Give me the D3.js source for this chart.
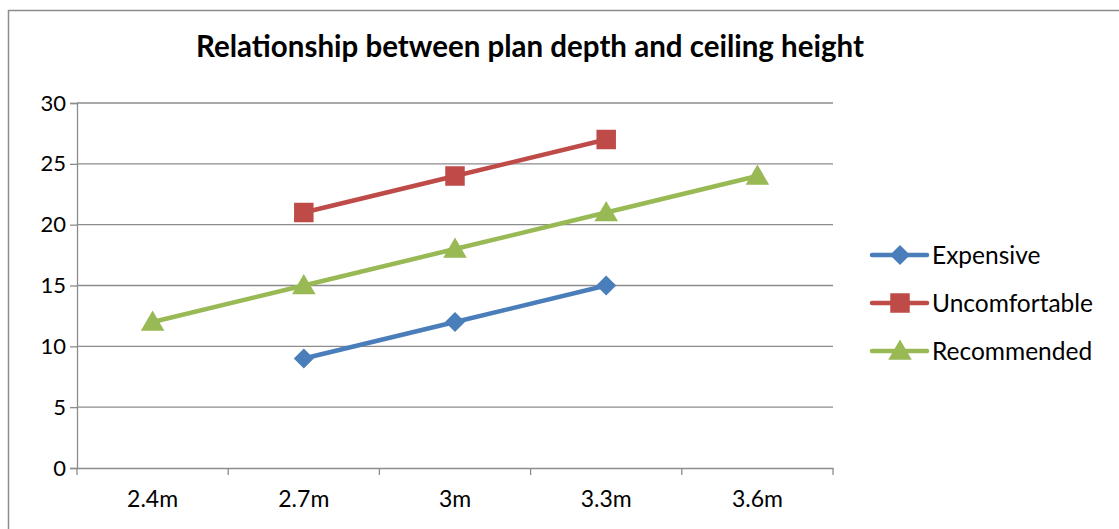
<!DOCTYPE html>
<html>
<head>
<meta charset="utf-8">
<script src="https://cdn.jsdelivr.net/npm/d3@7"></script>
<style>
  html, body { margin: 0; padding: 0; background: #fff; }
  svg { display: block; }
</style>
</head>
<body>
<svg id="chart" width="1119" height="529"></svg>
<script>
// Ceiling height categories
const categories = ["2.4m", "2.7m", "3m", "3.3m", "3.6m"];
// Plan depth values per series (null = no value)
const expensive     = [null, 9, 12, 15, null];
const uncomfortable = [null, 21, 24, 27, null];
const recommended   = [12, 15, 18, 21, 24];
const yTicks = [0, 5, 10, 15, 20, 25, 30];

const seriesList = [
  { name: "Expensive",     values: expensive,     color: "#4A7EBB", symbol: "diamond" },
  { name: "Uncomfortable", values: uncomfortable, color: "#BE4B48", symbol: "square" },
  { name: "Recommended",   values: recommended,   color: "#98B954", symbol: "triangle" }
];

const FONT = "Lato, 'Open Sans', sans-serif";
const svg = d3.select("#chart");

// Outer frame
svg.append("rect")
  .attr("x", 8.5).attr("y", 10.5)
  .attr("width", 1130).attr("height", 540)
  .attr("fill", "none").attr("stroke", "#8c8c8c").attr("stroke-width", 1.5);

// Title
svg.append("text")
  .attr("x", 530).attr("y", 57)
  .attr("text-anchor", "middle")
  .attr("font-family", FONT).attr("font-weight", "bold")
  .attr("font-size", 29.5).attr("fill", "#000")
  .text("Relationship between plan depth and ceiling height");

const plot = { left: 77, right: 833, top: 103, bottom: 468 };

const x = d3.scaleBand().domain(categories).range([plot.left, plot.right]).padding(0);
const y = d3.scaleLinear().domain([0, 30]).range([plot.bottom, plot.top]);

// Horizontal gridlines
svg.append("g").selectAll("line")
  .data(yTicks.filter(t => t > 0))
  .join("line")
  .attr("x1", plot.left).attr("x2", plot.right)
  .attr("y1", d => y(d)).attr("y2", d => y(d))
  .attr("stroke", "#8c8c8c").attr("stroke-width", 1.3);

// Y axis
const yAxis = svg.append("g")
  .attr("transform", `translate(${plot.left},0)`)
  .call(d3.axisLeft(y).tickValues(yTicks).tickSize(7).tickPadding(4));
yAxis.select(".domain").attr("stroke", "#8c8c8c").attr("stroke-width", 1.3);
yAxis.selectAll(".tick line").attr("stroke", "#8c8c8c").attr("stroke-width", 1.3);
yAxis.selectAll("text").attr("font-family", FONT).attr("font-size", 22).attr("fill", "#000");

// X axis (tick marks at category boundaries)
const xAxis = svg.append("g")
  .attr("transform", `translate(0,${plot.bottom})`)
  .call(d3.axisBottom(x).tickSize(0).tickPadding(23));
xAxis.select(".domain").attr("stroke", "#8c8c8c").attr("stroke-width", 1.3);
xAxis.selectAll("text").attr("font-family", FONT).attr("font-size", 23).attr("fill", "#000");
const bounds = categories.map(c => x(c)).concat([x(categories[categories.length - 1]) + x.bandwidth()]);
xAxis.selectAll(".bound").data(bounds).join("line")
  .attr("class", "bound")
  .attr("x1", d => d).attr("x2", d => d)
  .attr("y1", 0).attr("y2", 7)
  .attr("stroke", "#8c8c8c").attr("stroke-width", 1.3);

const cx = c => x(c) + x.bandwidth() / 2;

// Marker shapes: diamond is a square turned 45 degrees
const markerPath = {
  diamond: d3.symbol().type(d3.symbolSquare).size(200)(),
  square: d3.symbol().type(d3.symbolSquare).size(380)(),
  triangle: d3.symbol().type(d3.symbolTriangle).size(240)()
};
const markerTransform = (sym, px, py) =>
  sym === "diamond" ? `translate(${px},${py}) rotate(45)`
  : sym === "triangle" ? `translate(${px},${py + 2})`
  : `translate(${px},${py})`;

const line = d3.line()
  .defined(d => d.v !== null)
  .x(d => cx(d.c))
  .y(d => y(d.v));

seriesList.forEach(s => {
  const pts = categories.map((c, i) => ({ c, v: s.values[i] }));
  svg.append("path")
    .datum(pts)
    .attr("fill", "none")
    .attr("stroke", s.color)
    .attr("stroke-width", 4.5)
    .attr("stroke-linejoin", "round")
    .attr("d", line);
  svg.append("g").selectAll("path")
    .data(pts.filter(d => d.v !== null))
    .join("path")
    .attr("transform", d => markerTransform(s.symbol, cx(d.c), y(d.v)))
    .attr("d", markerPath[s.symbol])
    .attr("fill", s.color);
});

// Legend
const legend = svg.append("g");
seriesList.forEach((s, i) => {
  const ly = 255 + i * 48;
  const g = legend.append("g").attr("transform", `translate(0,${ly})`);
  g.append("line")
    .attr("x1", 872).attr("x2", 927).attr("y1", 0).attr("y2", 0)
    .attr("stroke", s.color).attr("stroke-width", 4.5).attr("stroke-linecap", "round");
  g.append("path")
    .attr("transform", markerTransform(s.symbol, 900, 0))
    .attr("d", markerPath[s.symbol])
    .attr("fill", s.color);
  g.append("text")
    .attr("x", 932).attr("y", 0).attr("dy", "0.35em")
    .attr("font-family", FONT).attr("font-size", 24.5).attr("fill", "#000")
    .text(s.name);
});
</script>
</body>
</html>
